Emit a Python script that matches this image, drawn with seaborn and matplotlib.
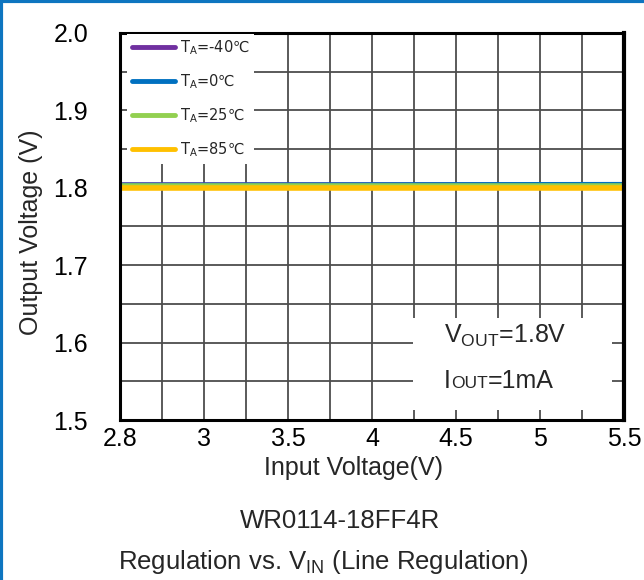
import numpy as np
import pandas as pd
import matplotlib
matplotlib.use("Agg")
import matplotlib.pyplot as plt
import seaborn as sns
from matplotlib.offsetbox import TextArea, HPacker, VPacker, AnchoredOffsetbox
from matplotlib.patches import Rectangle

# data
vin_labels = ["2.8", "3", "3.5", "4", "4.5", "5", "5.5"]
temps = ["T$_\\mathrm{A}$=-40℃", "T$_\\mathrm{A}$=0℃", "T$_\\mathrm{A}$=25℃", "T$_\\mathrm{A}$=85℃"]
vout_m40 = [1.8036, 1.8036, 1.8036, 1.8036, 1.8036, 1.8036, 1.8036]
vout_0 = [1.8030, 1.8031, 1.8033, 1.8035, 1.8037, 1.8039, 1.8040]
vout_25 = [1.8023, 1.8023, 1.8023, 1.8023, 1.8023, 1.8023, 1.8023]
vout_85 = [1.7998, 1.7998, 1.7998, 1.7998, 1.7998, 1.7998, 1.7998]
colors = ["#7030A0", "#0070C0", "#92D050", "#FFC000"]

sns.set_theme(style="white")
plt.rcParams['font.family'] = ['Liberation Sans', 'DejaVu Sans']
plt.rcParams['mathtext.fontset'] = 'custom'
plt.rcParams['mathtext.rm'] = 'Liberation Sans'
plt.rcParams['mathtext.default'] = 'regular'

rows = []
for t, vals in zip(temps, [vout_m40, vout_0, vout_25, vout_85]):
    for i, v in enumerate(vals):
        rows.append({"pos": i, "vout": v, "temp": t})
df = pd.DataFrame(rows)

fig = plt.figure(figsize=(6.44, 5.8), dpi=100)
ax = fig.add_axes([120 / 644, 1 - 420 / 580, 504 / 644, 387 / 580])

sns.lineplot(data=df, x="pos", y="vout", hue="temp", palette=colors,
             linewidth=4, ax=ax, legend=True, solid_capstyle="butt")

ax.set_xlim(0, 6)
ax.set_ylim(1.5, 2.0)
ax.set_xticks(range(7))
ax.set_xticklabels(vin_labels)
ax.set_xticks(np.arange(0.5, 6, 1), minor=True)
ax.set_yticks([1.5, 1.6, 1.7, 1.8, 1.9, 2.0])
ax.set_yticklabels(["1.5", "1.6", "1.7", "1.8", "1.9", "2.0"])
ax.set_yticks(np.arange(1.55, 2.0, 0.1), minor=True)
ax.grid(True, which="both", color="#4d4d4d", linewidth=1.3)
ax.set_axisbelow(True)
ax.tick_params(axis="both", which="both", length=0, labelsize=18, colors="black")
ax.tick_params(axis="y", pad=23)
ax.tick_params(axis="x", pad=5)
ax.set_xlabel("")
ax.set_ylabel("")
for side in ["left", "bottom", "top"]:
    ax.spines[side].set_color("black")
    ax.spines[side].set_linewidth(2.2)
ax.spines["right"].set_color("black")
ax.spines["right"].set_linewidth(3)

# legend (DejaVu has the degree-Celsius sign)
leg = ax.legend(loc="upper left", bbox_to_anchor=(0.0, 1.016),
                prop=dict(family="DejaVu Sans", size=10.5),
                frameon=True, fancybox=False, framealpha=1, edgecolor="none",
                handlelength=3.0, labelspacing=1.05, handletextpad=0.3,
                borderpad=0.3, title=None)
leg.get_frame().set_facecolor("white")
for h in leg.get_lines():
    h.set_linewidth(3.5)
    h.set_solid_capstyle("round")

# condition box
ax.add_patch(Rectangle((0.581, 0.026), 0.395, 0.238, transform=ax.transAxes,
                       facecolor="white", edgecolor="none", zorder=2))
line1 = TextArea("V$_{\\mathrm{OUT}}$=1.8V", textprops=dict(size=18))
line2 = HPacker(children=[TextArea("I", textprops=dict(size=18)),
                          TextArea("OUT", textprops=dict(size=12.5)),
                          TextArea("=1mA", textprops=dict(size=18))],
                align="baseline", pad=0, sep=0)
box = VPacker(children=[line1, line2], align="left", pad=0, sep=14)
anch = AnchoredOffsetbox(loc="upper left", child=box, frameon=False,
                         bbox_to_anchor=(0.643, 0.25), bbox_transform=ax.transAxes,
                         borderpad=0, pad=0)
anch.zorder = 3
ax.add_artist(anch)

# labels and captions
fig.text(31 / 644, 1 - 232 / 580, "Output Voltage (V)", rotation=90,
         ha="center", va="center", fontsize=18)
fig.text(353 / 644, 1 - 468 / 580, "Input Voltage(V)", ha="center", va="center", fontsize=18)
fig.text(340 / 644, 1 - 521 / 580, "WR0114-18FF4R", ha="center", va="center", fontsize=18.5)
fig.text(323 / 644, 1 - 562 / 580, "Regulation vs. V$_{\\mathrm{IN}}$ (Line Regulation)",
         ha="center", va="center", fontsize=18.5)

# blue frame on top and left edges
fig.add_artist(plt.Line2D([0, 1], [0.998, 0.998], transform=fig.transFigure,
                          color="#0E75C0", linewidth=3))
fig.add_artist(plt.Line2D([0.002, 0.002], [0, 1], transform=fig.transFigure,
                          color="#0E75C0", linewidth=3))

fig.savefig("out.png", dpi=100)
